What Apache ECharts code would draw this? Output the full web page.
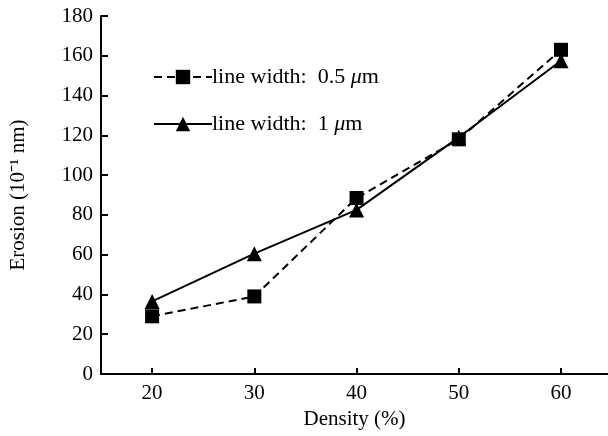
<!DOCTYPE html>
<html><head><meta charset="utf-8">
<script src="https://cdn.jsdelivr.net/npm/echarts@6/dist/echarts.min.js"></script>
<style>html,body{margin:0;padding:0;background:#fff}#c{width:608px;height:436px}</style>
</head><body><div id="c"></div>
<script>
var densities = [20, 30, 40, 50, 60];
var erosionHalf = [29, 39, 88.5, 118, 163];
var erosionOne = [36.5, 60.5, 82.5, 119, 157.5];
var xTicks = [20, 30, 40, 50, 60];
var seriesNames = ['line width:  0.5 μm', 'line width:  1 μm'];

var font = 'Liberation Serif';
var chart = echarts.init(document.getElementById('c'), null, {renderer: 'canvas'});
function pairs(vals){ return densities.map(function(d,i){ return [d, vals[i]]; }); }
chart.setOption({
  animation: false,
  grid: {left: 100, right: 0, top: 16, bottom: 62},
  legend: {
    orient: 'vertical', left: 148, top: 61, itemGap: 25,
    itemWidth: 58, itemHeight: 18,
    textStyle: {fontFamily: font, fontSize: 22, color: '#000', padding: [0,0,0,-5],
      rich: {i: {fontFamily: font, fontStyle: 'italic', fontSize: 22, color: '#000'}}},
    formatter: function(n){ return n.replace('μ', '{i|μ}'); },
    data: seriesNames
  },
  xAxis: {
    type: 'value', min: 15, max: 64.6,
    name: 'Density (%)', nameLocation: 'middle', nameGap: 35,
    nameTextStyle: {fontFamily: font, fontSize: 21, color: '#000'},
    axisLine: {lineStyle: {color: '#000', width: 2}},
    axisTick: {inside: true, length: 6, lineStyle: {color: '#000', width: 2}, customValues: xTicks},
    axisLabel: {fontFamily: font, fontSize: 21, color: '#000', margin: 9, customValues: xTicks},
    splitLine: {show: false}
  },
  yAxis: {
    type: 'value', min: 0, max: 180, interval: 20,
    name: 'Erosion (10⁻¹ nm)', nameLocation: 'middle', nameGap: 72,
    nameTextStyle: {fontFamily: font, fontSize: 21, color: '#000'},
    axisLine: {show: true, lineStyle: {color: '#000', width: 2}},
    axisTick: {show: true, inside: true, length: 7, lineStyle: {color: '#000', width: 2}},
    axisLabel: {fontFamily: font, fontSize: 21, color: '#000', margin: 8},
    splitLine: {show: false}
  },
  series: [
    {name: seriesNames[0], type: 'line', data: pairs(erosionHalf), symbol: 'rect', symbolSize: 14,
     itemStyle: {color: '#000'}, lineStyle: {color: '#000', width: 2, type: [8,5]}},
    {name: seriesNames[1], type: 'line', data: pairs(erosionOne), symbol: 'triangle', symbolSize: 15,
     itemStyle: {color: '#000'}, lineStyle: {color: '#000', width: 2, type: 'solid'}}
  ]
});
</script></body></html>
